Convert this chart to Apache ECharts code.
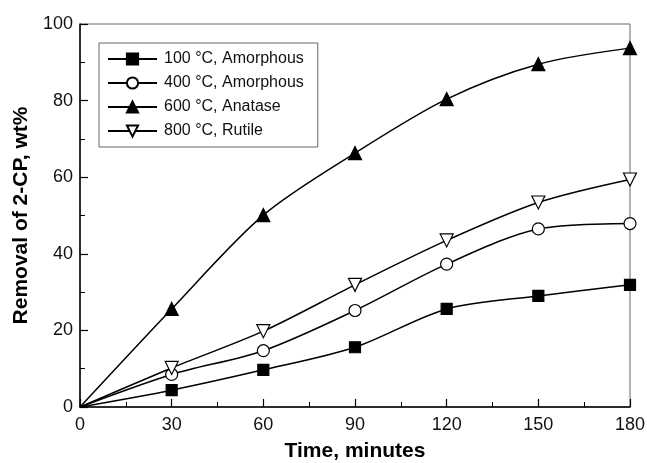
<!DOCTYPE html>
<html>
<head>
<meta charset="utf-8">
<script src="https://cdn.jsdelivr.net/npm/echarts@6/dist/echarts.min.js"></script>
<style>html,body{margin:0;padding:0;background:#fff;}#c{width:647px;height:463px;}</style>
</head>
<body>
<div id="c"></div>
<script>
var times = [0, 30, 60, 90, 120, 150, 180];
var seriesNames = ['100 °C, Amorphous', '400 °C, Amorphous', '600 °C, Anatase', '800 °C, Rutile'];
var s100 = [0, 4.4, 9.7, 15.6, 25.6, 29.0, 31.9];
var s400 = [0, 8.5, 14.7, 25.2, 37.3, 46.5, 47.9];
var s600 = [0, 25.6, 50.1, 66.3, 80.4, 89.5, 93.7];
var s800 = [0, 10.2, 19.8, 31.9, 43.5, 53.4, 59.4];
var xTicks = [0, 30, 60, 90, 120, 150, 180];
var yTicks = [0, 20, 40, 60, 80, 100];

var values = [s100, s400, s600, s800];
var symbols = ['rect', 'circle', 'triangle', 'path://M0,0 L10,0 L5,9 Z'];
var sizes = [11, 12, 13, 13];
var fills = ['#000', '#fff', '#000', '#fff'];

function mk(i) {
  return {
    name: seriesNames[i],
    type: 'line',
    smooth: 0.3,
    symbol: symbols[i],
    symbolSize: sizes[i],
    showAllSymbol: true,
    lineStyle: {color: '#000', width: 1.5},
    itemStyle: {color: fills[i], borderColor: '#000', borderWidth: 1.2},
    z: 3 + i,
    data: times.map(function (t, k) {
      var d = {value: [t, values[i][k]]};
      if (k === 0) { d.symbol = 'none'; }
      return d;
    })
  };
}

var chart = echarts.init(document.getElementById('c'), null, {renderer: 'canvas'});
chart.setOption({
  animation: false,
  backgroundColor: '#fff',
  grid: {left: 80, right: 17, top: 24, bottom: 56, containLabel: false, outerBoundsMode: 'none', show: true, borderColor: '#666', borderWidth: 1, backgroundColor: 'transparent'},
  legend: {
    orient: 'vertical',
    left: 99, top: 43,
    padding: [8, 14, 8, 8],
    itemWidth: 49, itemHeight: 14, itemGap: 8,
    backgroundColor: '#fff',
    borderColor: '#666', borderWidth: 1, borderRadius: 0,
    textStyle: {fontFamily: 'Liberation Sans, Arial', fontSize: 16, color: '#111', padding: [0, 0, 0, 2]},
    data: seriesNames
  },
  xAxis: {
    type: 'value', min: 0, max: 180, interval: 30,
    name: 'Time, minutes', nameLocation: 'middle', nameGap: 34,
    nameTextStyle: {fontFamily: 'Liberation Sans, Arial', fontSize: 21, fontWeight: 'bold', color: '#000'},
    axisLine: {show: true, onZero: false, lineStyle: {color: '#000', width: 1.5}},
    axisTick: {show: true, inside: true, length: 8, lineStyle: {color: '#000', width: 1.2}, customValues: xTicks},
    minorTick: {show: true, splitNumber: 2, length: 5, lineStyle: {color: '#000', width: 1}},
    axisLabel: {fontFamily: 'Liberation Sans, Arial', fontSize: 18, color: '#111', margin: 9, customValues: xTicks},
    splitLine: {show: false}
  },
  yAxis: {
    type: 'value', min: 0, max: 100, interval: 20,
    name: 'Removal of 2-CP, wt%', nameLocation: 'middle', nameGap: 44,
    nameTextStyle: {fontFamily: 'Liberation Sans, Arial', fontSize: 21, fontWeight: 'bold', color: '#000'},
    axisLine: {show: true, onZero: false, lineStyle: {color: '#000', width: 1.5}},
    axisTick: {show: true, inside: true, length: 8, lineStyle: {color: '#000', width: 1.2}, customValues: yTicks},
    minorTick: {show: true, splitNumber: 2, length: 5, lineStyle: {color: '#000', width: 1}},
    axisLabel: {fontFamily: 'Liberation Sans, Arial', fontSize: 18, color: '#111', margin: 7, customValues: yTicks},
    splitLine: {show: false}
  },
  series: [mk(0), mk(1), mk(2), mk(3)]
});
</script>
</body>
</html>
